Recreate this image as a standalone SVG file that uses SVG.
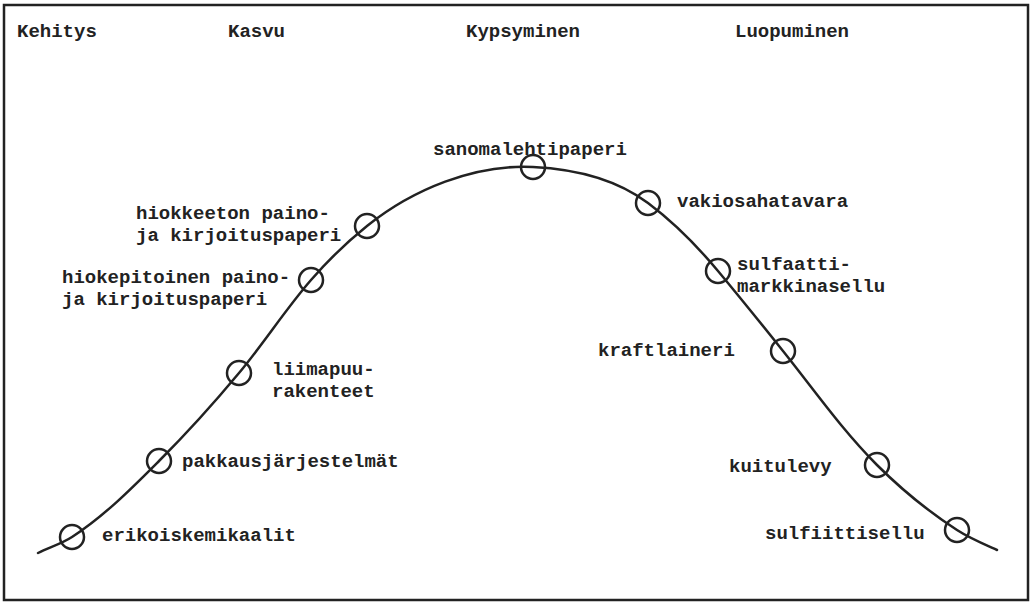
<svg xmlns="http://www.w3.org/2000/svg" width="1033" height="604" viewBox="0 0 1033 604">
<style>
text{font-family:"Liberation Mono","Courier New",monospace;font-weight:bold;font-size:19px;fill:#222}
.frame{fill:none;stroke:#222;stroke-width:2.5}
.curve{fill:none;stroke:#222;stroke-width:2.5;stroke-linecap:round}
.pt{fill:none;stroke:#222;stroke-width:2.5}
</style>
<rect width="1033" height="604" fill="#fff"/>
<rect class="frame" x="4" y="5" width="1024" height="595"/>
<g id="headers">
<text x="17" y="37">Kehitys</text>
<text x="228" y="37">Kasvu</text>
<text x="466" y="37">Kypsyminen</text>
<text x="735" y="37">Luopuminen</text>
</g>
<g id="connectors">
<path class="curve" d="M38,553 C49.2,547.4 61.5,543.8 72,537 C104.3,516 131.8,488.2 159,461 C187,433 213.7,403.4 239,373 C264.1,342.9 285.3,309.6 311,280 C328,260.4 346.8,242.2 367,226 C412.8,189.3 474.4,164.1 533,167 C573.2,169 615.8,178.9 648,203 C674,222.5 697.2,246 718,271 C740,297.4 761.5,324.1 783,351 C813.8,389.5 842.1,430.1 877,465 C901.3,489.3 928.2,511.3 957,530 C969.5,538.1 983.4,543.9 997,550"/>
</g>
<g id="erikoiskemikaalit"><circle class="pt" cx="72" cy="537" r="12"/><text x="102" y="541">erikoiskemikaalit</text></g>
<g id="pakkausjarjestelmat"><circle class="pt" cx="159" cy="461" r="12"/><text x="182" y="467">pakkausjärjestelmät</text></g>
<g id="liimapuurakenteet"><circle class="pt" cx="239" cy="373" r="12"/><text x="272" y="375">liimapuu-</text><text x="272" y="397">rakenteet</text></g>
<g id="hiokepitoinen"><circle class="pt" cx="311" cy="280" r="12"/><text x="62" y="283">hiokepitoinen paino-</text><text x="62" y="305">ja kirjoituspaperi</text></g>
<g id="hiokkeeton"><circle class="pt" cx="367" cy="226" r="12"/><text x="136" y="219">hiokkeeton paino-</text><text x="136" y="241">ja kirjoituspaperi</text></g>
<g id="sanomalehtipaperi"><circle class="pt" cx="533" cy="167" r="12"/><text x="433" y="155">sanomalehtipaperi</text></g>
<g id="vakiosahatavara"><circle class="pt" cx="648" cy="203" r="12"/><text x="677" y="207">vakiosahatavara</text></g>
<g id="sulfaattimarkkinasellu"><circle class="pt" cx="718" cy="271" r="12"/><text x="737" y="270">sulfaatti-</text><text x="737" y="292">markkinasellu</text></g>
<g id="kraftlaineri"><circle class="pt" cx="783" cy="351" r="12"/><text x="598" y="356">kraftlaineri</text></g>
<g id="kuitulevy"><circle class="pt" cx="877" cy="465" r="12"/><text x="729" y="472">kuitulevy</text></g>
<g id="sulfiittisellu"><circle class="pt" cx="957" cy="530" r="12"/><text x="765" y="539">sulfiittisellu</text></g>
</svg>
